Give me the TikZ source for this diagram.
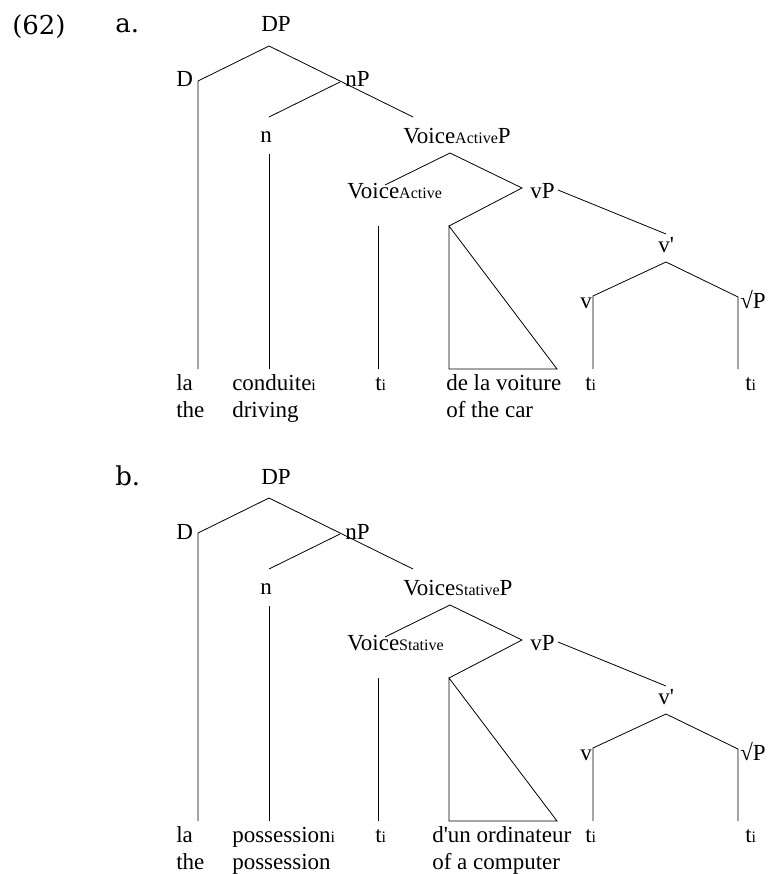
\documentclass[tikz,border=0pt]{standalone}
\usepackage{fontspec}
\setmainfont{Liberation Serif}
\newfontfamily\exfont{DejaVu Serif}
\newcommand{\sbs}[1]{{\fontsize{12}{12}\selectfont #1}}
\newcommand{\drawtree}[8]{%
  % #1 prefix, #2 example letter, #3 voice subscript, #4 noun, #5 noun gloss, #6 PP, #7 PP gloss, #8 PP left x
  \node[exlbl] (#1ex) at (115,33) {#2.};
  \node[lbl] (#1DP) at (261,32) {DP};
  \node[lbl] (#1D) at (176,87) {D};
  \node[lbl] (#1nP) at (345,87) {nP};
  \node[lbl] (#1n) at (260,142) {n};
  \node[lbl] (#1VP) at (403,143) {Voice\sbs{#3}P};
  \node[lbl] (#1VA) at (347,198) {Voice\sbs{#3}};
  \node[lbl] (#1vP) at (530,198) {vP};
  \node[lbl] (#1vb) at (658,252) {v\textquotesingle};
  \node[lbl] (#1v) at (580,308) {v};
  \node[lbl] (#1rP) at (740,308) {√P};
  \node[lbl] (#1w1) at (176,390) {la};
  \node[lbl] (#1g1) at (176,417) {the};
  \node[lbl] (#1w2) at (232,390) {#4\sbs{i}};
  \node[lbl] (#1g2) at (232,417) {#5};
  \node[lbl] (#1w3) at (375,390) {t\sbs{i}};
  \node[lbl] (#1w4) at (#8,390) {#6};
  \node[lbl] (#1g4) at (#8,417) {#7};
  \node[lbl] (#1w5) at (585,390) {t\sbs{i}};
  \node[lbl] (#1w6) at (745,390) {t\sbs{i}};
  \coordinate (#1DPt) at (269,46);
  \coordinate (#1Dt) at (198,81);
  \coordinate (#1Db) at (198,369);
  \coordinate (#1nPp) at (340,82);
  \coordinate (#1nPe) at (413,117);
  \coordinate (#1nt) at (269,117);
  \coordinate (#1ntt) at (269,154);
  \coordinate (#1nbb) at (269,369);
  \coordinate (#1VPt) at (450,153);
  \coordinate (#1VAe) at (385,185);
  \coordinate (#1VAt) at (378,226);
  \coordinate (#1VAb) at (378,369);
  \coordinate (#1vPl) at (522,188);
  \coordinate (#1trT) at (449,226);
  \coordinate (#1trL) at (449,369);
  \coordinate (#1trR) at (557,369);
  \coordinate (#1vPr) at (558,190);
  \coordinate (#1vbe) at (666,234);
  \coordinate (#1vbt) at (666,262);
  \coordinate (#1vt) at (593,296);
  \coordinate (#1vbb) at (593,369);
  \coordinate (#1rt) at (738,297);
  \coordinate (#1rb) at (738,369);
  \draw[br] (#1Db) -- (#1Dt) -- (#1DPt) -- (#1nPe);
  \draw[br] (#1nPp) -- (#1nt);
  \draw[br] (#1ntt) -- (#1nbb);
  \draw[br] (#1VAe) -- (#1VPt) -- (#1vPl) -- (#1trT);
  \draw[br] (#1trT) -- (#1trL) -- (#1trR) -- cycle;
  \draw[br] (#1VAt) -- (#1VAb);
  \draw[br] (#1vPr) -- (#1vbe);
  \draw[br] (#1vbb) -- (#1vt) -- (#1vbt) -- (#1rt) -- (#1rb);
}
\begin{document}
\begin{tikzpicture}[x=0.75pt,y=-0.75pt,
  lbl/.style={anchor=base west, inner sep=0pt, font=\fontsize{17.25}{20}\selectfont},
  exlbl/.style={anchor=base west, inner sep=0pt, font=\exfont\fontsize{19.5}{22}\selectfont},
  br/.style={line width=0.6pt, line join=miter}]
\useasboundingbox (0,0) rectangle (770,874);
\node[exlbl] (num) at (12,35) {(62)};
\drawtree{a}{a}{Active}{conduite}{driving}{de la voiture}{of the car}{446}
\begin{scope}[yshift=-339pt]
\drawtree{b}{b}{Stative}{possession}{possession}{d\textquotesingle un ordinateur}{of a computer}{432}
\end{scope}
\end{tikzpicture}
\end{document}
